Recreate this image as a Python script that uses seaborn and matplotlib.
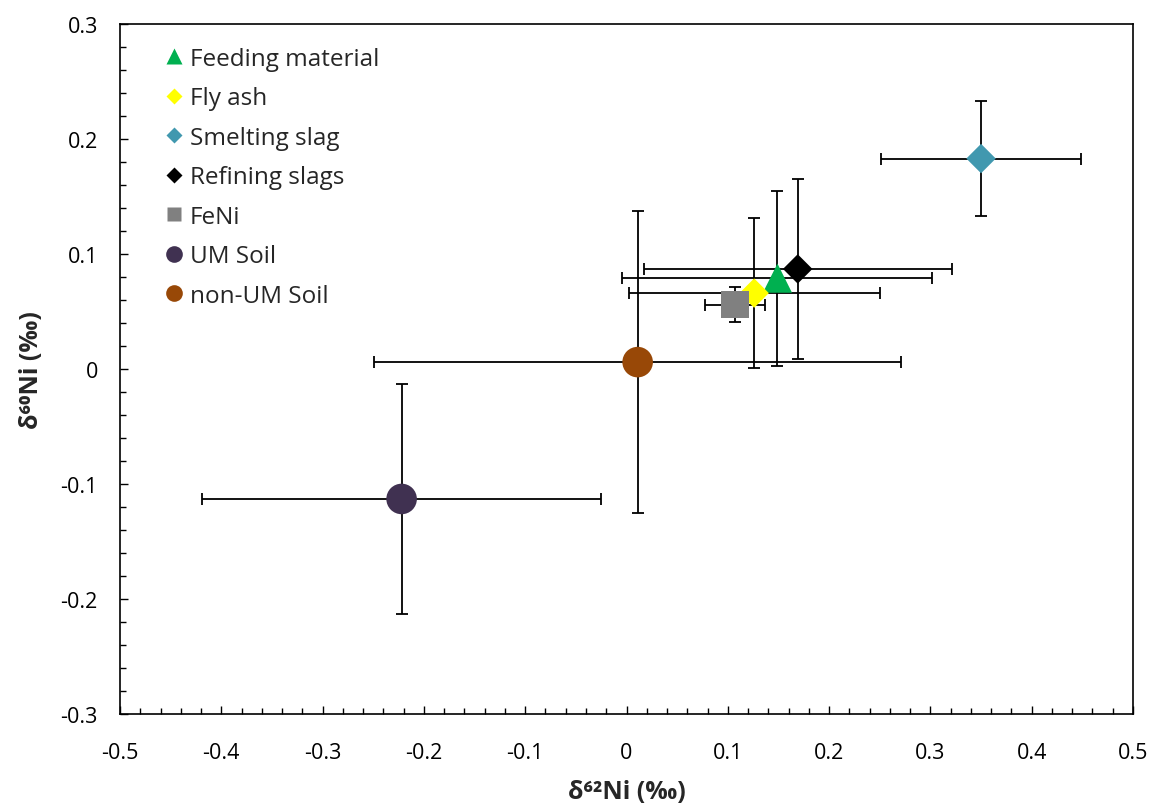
import numpy as np
import pandas as pd
import matplotlib
matplotlib.use("Agg")
import matplotlib.pyplot as plt
from matplotlib.lines import Line2D
from matplotlib.ticker import MultipleLocator
import seaborn as sns

# ---- data ----
categories = ["Feeding material", "Fly ash", "Smelting slag", "Refining slags",
              "FeNi", "UM Soil", "non-UM Soil"]
d62 = [0.149, 0.126, 0.350, 0.169, 0.107, -0.222, 0.011]
d62_err = [0.153, 0.124, 0.099, 0.152, 0.030, 0.197, 0.260]
d60 = [0.079, 0.066, 0.183, 0.087, 0.056, -0.113, 0.006]
d60_err = [0.076, 0.065, 0.050, 0.078, 0.015, 0.100, 0.131]

colors = ["#00B050", "#FFFF00", "#4198AF", "#000000", "#808080", "#403151", "#984807"]
markers = ["^", "D", "D", "D", "s", "o", "o"]
msizes = [21, 15, 15, 15, 20, 22, 22]        # points
leg_sizes = [11, 8, 8, 8, 10, 12, 12]

df = pd.DataFrame({"cat": categories, "x": d62, "xerr": d62_err,
                   "y": d60, "yerr": d60_err})

sns.set_theme(style="white")
plt.rcParams["font.family"] = ["Open Sans", "DejaVu Sans"]

fig = plt.figure(figsize=(11.57, 8.12), dpi=100)
ax = fig.add_axes([120/1157, 1-715/812, (1133-120)/1157, (715-25)/812])

# error bars
ax.errorbar(df["x"], df["y"], xerr=df["xerr"], yerr=df["yerr"], fmt="none",
            ecolor="black", elinewidth=1.3, capsize=4.5, capthick=1.3, zorder=2)

# markers
for i, row in df.iterrows():
    sns.scatterplot(x=[row["x"]], y=[row["y"]], marker=markers[i], s=msizes[i]**2,
                    color=colors[i], edgecolor="none", linewidth=0, ax=ax,
                    zorder=3, legend=False)

ax.set_xlim(-0.5, 0.5)
ax.set_ylim(-0.3, 0.3)
ax.xaxis.set_minor_locator(MultipleLocator(0.02))
ax.yaxis.set_minor_locator(MultipleLocator(0.02))
ax.tick_params(axis="both", which="both", direction="in", colors="black",
               bottom=True, left=True, top=False, right=False)
ax.tick_params(axis="both", which="major", length=6, width=1.0, labelsize=15.5)
ax.tick_params(axis="both", which="minor", length=4, width=1.0)
ax.tick_params(axis="x", which="major", pad=20)
ax.tick_params(axis="y", which="major", pad=16)

def fmt(v):
    if abs(v) < 1e-9:
        return "0"
    return f"{v:.1f}"
xt = np.round(np.arange(-0.5, 0.51, 0.1), 1)
yt = np.round(np.arange(-0.3, 0.31, 0.1), 1)
ax.set_xticks(xt)
ax.set_xticklabels([fmt(v) for v in xt])
ax.set_yticks(yt)
ax.set_yticklabels([fmt(v) for v in yt])

for s in ax.spines.values():
    s.set_color("black")
    s.set_linewidth(1.2)

ax.set_xlabel("δ⁶²Ni (‰)", fontsize=18, fontweight="bold", labelpad=12)
ax.set_ylabel("δ⁶⁰Ni (‰)", fontsize=18, fontweight="bold", labelpad=12)

handles = [Line2D([0], [0], marker=markers[i], color="none", markerfacecolor=colors[i],
                  markeredgecolor="none", markersize=leg_sizes[i], linestyle="none")
           for i in range(len(categories))]
leg = ax.legend(handles, categories, loc="upper left",
                bbox_to_anchor=(0.028, 0.992), frameon=False, fontsize=17.5,
                handlelength=0.7, handletextpad=0.3, labelspacing=0.64,
                borderpad=0.2)

fig.savefig("out.png", dpi=100, facecolor="white")
